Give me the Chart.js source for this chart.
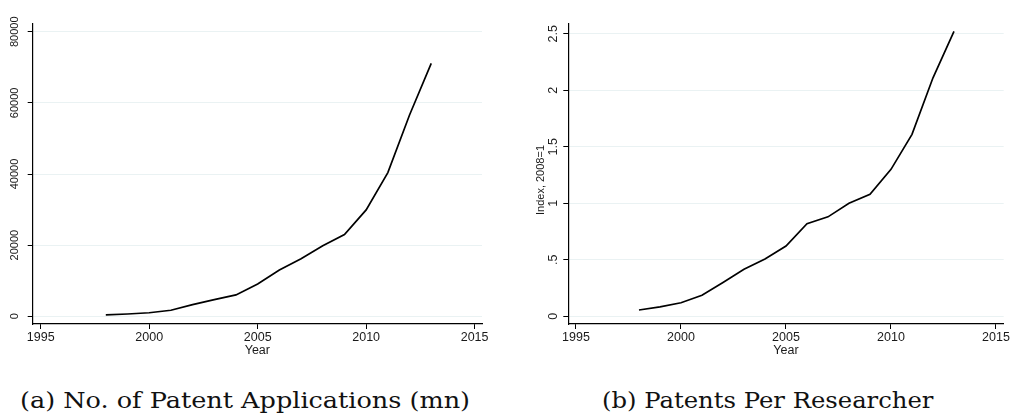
<!DOCTYPE html>
<html>
<head>
<meta charset="utf-8">
<script src="https://cdn.jsdelivr.net/npm/chart.js@4/dist/chart.umd.min.js"></script>
<style>
  html, body { margin: 0; padding: 0; background: #fff; }
  body { width: 1011px; height: 417px; position: relative; overflow: hidden; }
  .panel { position: absolute; top: 0; height: 365px; }
  #panelA { left: 0; width: 500px; }
  #panelB { left: 505px; width: 506px; }
  .pie { position: absolute; top: 390px; font-family: "DejaVu Serif", "Liberation Serif", serif;
         font-size: 21.5px; color: #111; white-space: nowrap; line-height: 1;
         display: inline-block; transform-origin: 0 50%; }
  #pieA { left: 20px; }
  #pieB { left: 602px; }
</style>
</head>
<body>
<div class="panel" id="panelA"><canvas id="chartSolicitudes"></canvas></div>
<div class="panel" id="panelB"><canvas id="chartInvestigador"></canvas></div>
<div class="pie" id="pieA" data-ancho="450">(a) No. of Patent Applications (mn)</div>
<div class="pie" id="pieB" data-ancho="331">(b) Patents Per Researcher</div>
<script>
// Series anuales
const anios = [1998, 1999, 2000, 2001, 2002, 2003, 2004, 2005, 2006, 2007, 2008, 2009, 2010, 2011, 2012, 2013];
const solicitudes = [400, 650, 1000, 1700, 3300, 4700, 6000, 9100, 13000, 16200, 19800, 23000, 29900, 40400, 56600, 71100];
const patentesPorInvestigador = [0.056, 0.083, 0.12, 0.186, 0.30, 0.416, 0.507, 0.622, 0.82, 0.88, 1.0, 1.08, 1.30, 1.61, 2.11, 2.52];

// Marcas de los ejes
const ticksX = [1995, 2000, 2005, 2010, 2015];
const ticksSolicitudes = [0, 20000, 40000, 60000, 80000];
const etiquetasSolicitudes = ['0', '20000', '40000', '60000', '80000'];
const ticksIndice = [0, 0.5, 1, 1.5, 2, 2.5];
const etiquetasIndice = ['0', '.5', '1', '1.5', '2', '2.5'];

const FUENTE = '"Liberation Sans", Arial, Helvetica, sans-serif';
const GRIS_REJILLA = '#eaf2f3';

// los pies de figura se estiran a lo ancho para imitar la Palatino
document.querySelectorAll('.pie').forEach(el => {
    const objetivo = parseFloat(el.dataset.ancho);
    el.style.transform = `scaleX(${objetivo / el.offsetWidth})`;
});

// etiquetas del eje Y giradas 90 grados (estilo Stata)
const etiquetasYGiradas = {
    id: 'etiquetasYGiradas',
    afterDraw(chart, args, opts) {
        const { ctx, chartArea } = chart;
        const escalaY = chart.scales.y;
        ctx.save();
        ctx.fillStyle = '#1a1a1a';
        ctx.textAlign = 'center';
        ctx.textBaseline = 'alphabetic';
        ctx.font = `${opts.size}px ${FUENTE}`;
        escalaY.ticks.forEach((t, i) => {
            const py = escalaY.getPixelForValue(t.value);
            ctx.save();
            ctx.translate(chartArea.left - opts.gap, py);
            ctx.rotate(-Math.PI / 2);
            ctx.fillText(opts.labels[i], 0, 0);
            ctx.restore();
        });
        if (opts.titulo) {
            ctx.font = `${opts.tituloSize}px ${FUENTE}`;
            ctx.translate(chartArea.left - opts.tituloGap, opts.tituloY);
            ctx.rotate(-Math.PI / 2);
            ctx.fillText(opts.titulo, 0, 0);
        }
        ctx.restore();
    }
};

function crearGrafica(idCanvas, valores, cfg) {
    const puntos = anios.map((a, i) => ({ x: a, y: valores[i] }));
    return new Chart(document.getElementById(idCanvas), {
        type: 'line',
        data: {
            datasets: [{
                data: puntos,
                borderColor: '#000',
                borderWidth: 1.7,
                pointRadius: 0,
                tension: 0,
                fill: false
            }]
        },
        options: {
            responsive: true,
            maintainAspectRatio: false,
            animation: false,
            events: [],
            layout: { padding: { left: 0, right: cfg.padDer, top: 24, bottom: 0 } },
            scales: {
                x: {
                    type: 'linear',
                    min: cfg.xMin,
                    max: cfg.xMax,
                    afterBuildTicks: s => { s.ticks = ticksX.map(v => ({ value: v })); },
                    afterFit: s => { s.height = 41; },
                    border: { color: '#000', width: 1.2 },
                    grid: { drawOnChartArea: false, drawTicks: true, tickLength: 5, tickColor: '#000', tickWidth: 1 },
                    ticks: {
                        color: '#1a1a1a',
                        padding: 1,
                        maxRotation: 0,
                        font: { family: FUENTE, size: 12.5 },
                        callback: v => String(v)
                    },
                    title: {
                        display: true,
                        text: 'Year',
                        color: '#1a1a1a',
                        font: { family: FUENTE, size: 12.5 },
                        padding: { top: 0, bottom: 7 }
                    }
                },
                y: {
                    type: 'linear',
                    min: cfg.yMin,
                    max: cfg.yMax,
                    afterBuildTicks: s => { s.ticks = cfg.ticks.map(v => ({ value: v })); },
                    afterFit: s => { s.width = cfg.anchoY; },
                    border: { color: '#000', width: 1.2 },
                    grid: { color: GRIS_REJILLA, lineWidth: 1, drawTicks: true, tickLength: 5, tickColor: '#000', tickWidth: 1 },
                    ticks: { display: false }
                }
            },
            plugins: {
                legend: { display: false },
                tooltip: { enabled: false },
                etiquetasYGiradas: cfg.etiquetas
            }
        },
        plugins: [etiquetasYGiradas]
    });
}

// (a) solicitudes de patente
crearGrafica('chartSolicitudes', solicitudes, {
    xMin: 1994.63, xMax: 2015.34,
    yMin: -2164, yMax: 82164,
    ticks: ticksSolicitudes,
    anchoY: 32.7,
    padDer: 18,
    etiquetas: { labels: etiquetasSolicitudes, size: 11, gap: 14.4 }
});

// (b) patentes por investigador, indice 2008=1
crearGrafica('chartInvestigador', patentesPorInvestigador, {
    xMin: 1994.634, xMax: 2015.366,
    yMin: -0.068, yMax: 2.586,
    ticks: ticksIndice,
    anchoY: 63.3,
    padDer: 6,
    etiquetas: {
        labels: etiquetasIndice, size: 12.5, gap: 11.6,
        titulo: 'Index, 2008=1', tituloSize: 11, tituloGap: 24.3, tituloY: 180
    }
});
</script>
</body>
</html>
